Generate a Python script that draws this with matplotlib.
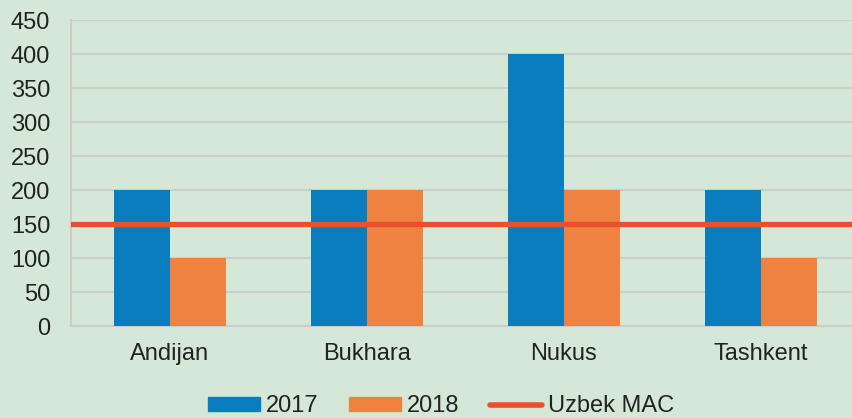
import numpy as np
import matplotlib.pyplot as plt
from matplotlib.lines import Line2D
from matplotlib.patches import Patch

plt.rcParams['font.family'] = ['Liberation Sans', 'DejaVu Sans']

# data
cities = ['Andijan', 'Bukhara', 'Nukus', 'Tashkent']
v2017 = [200, 200, 400, 200]
v2018 = [100, 200, 200, 100]
uzbek_mac = 150
yticks = [0, 50, 100, 150, 200, 250, 300, 350, 400, 450]

bg = '#d5e8d8'
blue = '#0a7dbf'
orange = '#f08241'
red = '#e8502e'

fig = plt.figure(figsize=(8.52, 4.18), dpi=100, facecolor=bg)
ax = fig.add_axes([0.0835, 0.22, 0.925, 0.732])
ax.set_facecolor(bg)

x = np.arange(len(cities))
w = 0.284
ax.bar(x - w / 2, v2017, w, color=blue, zorder=3)
ax.bar(x + w / 2, v2018, w, color=orange, zorder=3)
ax.axhline(uzbek_mac, color=red, lw=3.8, zorder=4)

ax.set_xlim(-0.5, len(cities) - 0.5)
ax.set_ylim(0, 450)
ax.set_yticks(yticks)
ax.set_xticks(x)
ax.set_xticklabels(cities)
ax.tick_params(axis='both', length=0, labelsize=17, colors='#222222')
ax.tick_params(axis='x', pad=12)
ax.tick_params(axis='y', pad=15)
ax.yaxis.grid(True, color='#cccccc', lw=1.5, zorder=0)
for s in ['top', 'right']:
    ax.spines[s].set_visible(False)
for s in ['left', 'bottom']:
    ax.spines[s].set_color('#cccccc')
    ax.spines[s].set_linewidth(1.5)

handles = [Patch(color=blue, label='2017'),
           Patch(color=orange, label='2018'),
           Line2D([], [], color=red, lw=4, solid_capstyle='round', label='Uzbek MAC')]
fig.legend(handles=handles, loc='center', bbox_to_anchor=(0.518, 0.028), ncol=3,
           frameon=False, fontsize=17, handlelength=2.2, handleheight=0.55,
           handletextpad=0.25, columnspacing=1.3, labelcolor='#222222')

fig.savefig('out.png', dpi=100, facecolor=bg)
